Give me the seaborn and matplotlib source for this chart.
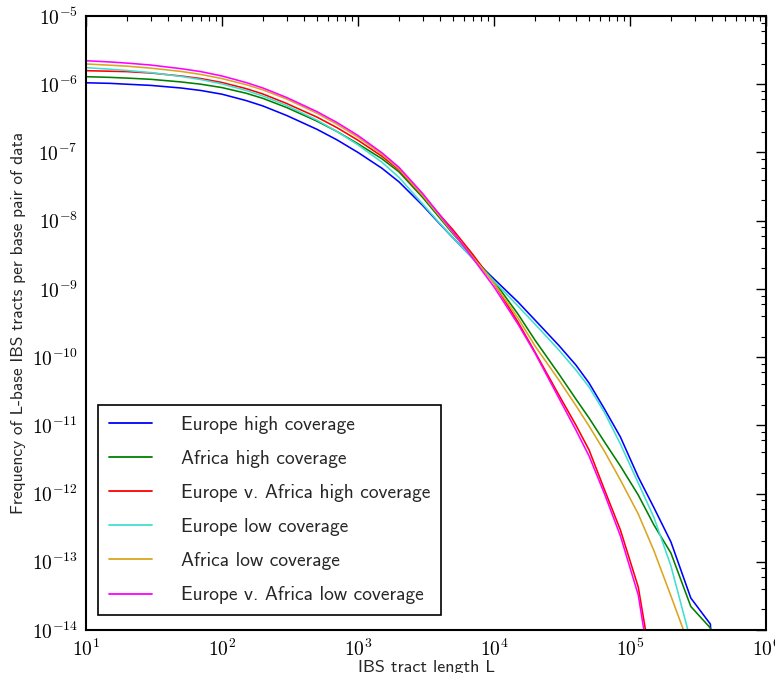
import numpy as np
import pandas as pd
import matplotlib
matplotlib.use("Agg")
import matplotlib.pyplot as plt
from matplotlib.ticker import LogLocator, FuncFormatter, NullFormatter
import seaborn as sns

# IBS tract length bins (bp)
tract_length = [10, 15, 20, 30, 50, 70, 100, 150, 200, 300, 500, 700, 1000, 1500,
                2000, 3000, 4000, 5000, 7000, 10000,
                15000, 20000, 30000, 40000, 50000, 65000, 85000, 115000, 150000,
                200000, 280000, 390000, 420000]

# Frequency of L-base IBS tracts per base pair, one list per comparison
europe_high = [1.05e-6, 1.03e-6, 1.00e-6, 9.61e-7, 8.80e-7, 8.09e-7, 7.14e-7, 5.77e-7,
               4.80e-7, 3.47e-7, 2.18e-7, 1.53e-7, 1.00e-7, 5.86e-8, 3.71e-8, 1.66e-8,
               8.94e-9, 5.59e-9, 2.79e-9, 1.40e-9,
               6.43e-10, 3.50e-10, 1.48e-10, 7.66e-11, 4.17e-11, 1.73e-11, 6.75e-12,
               1.75e-12, 6.20e-13, 1.95e-13, 2.94e-14, 1.22e-14, 1.0e-15]
africa_high = [1.29e-6, 1.26e-6, 1.23e-6, 1.18e-6, 1.08e-6, 1.00e-6, 8.92e-7, 7.39e-7,
               6.20e-7, 4.54e-7, 2.87e-7, 2.03e-7, 1.34e-7, 8.07e-8, 5.20e-8, 2.17e-8,
               1.09e-8, 6.40e-9, 3.02e-9, 1.30e-9,
               4.28e-10, 1.78e-10, 5.65e-11, 2.43e-11, 1.28e-11, 5.69e-12, 2.53e-12,
               9.52e-13, 3.46e-13, 1.34e-13, 2.21e-14, 1.07e-14, 9.4e-16]
eu_af_high = [1.58e-6, 1.55e-6, 1.53e-6, 1.46e-6, 1.32e-6, 1.21e-6, 1.06e-6, 8.63e-7,
              7.19e-7, 5.20e-7, 3.29e-7, 2.31e-7, 1.51e-7, 8.78e-8, 5.57e-8, 2.32e-8,
              1.21e-8, 7.32e-9, 3.18e-9, 1.21e-9,
              3.27e-10, 1.19e-10, 2.78e-11, 1.01e-11, 4.35e-12, 1.13e-12, 2.92e-13,
              4.26e-14, 1.85e-15, None, None, None, None]
europe_low = [1.75e-6, 1.66e-6, 1.59e-6, 1.48e-6, 1.30e-6, 1.17e-6, 1.01e-6, 8.12e-7,
              6.72e-7, 4.86e-7, 2.97e-7, 2.03e-7, 1.29e-7, 7.17e-8, 4.32e-8, 1.74e-8,
              9.09e-9, 5.59e-9, 2.79e-9, 1.30e-9,
              5.61e-10, 3.05e-10, 1.27e-10, 6.47e-11, 3.65e-11, 1.54e-11, 5.32e-12,
              1.43e-12, 4.45e-13, 8.67e-14, 6.89e-15, None, None]
africa_low = [1.98e-6, 1.90e-6, 1.84e-6, 1.72e-6, 1.54e-6, 1.39e-6, 1.21e-6, 9.87e-7,
              8.26e-7, 6.05e-7, 3.75e-7, 2.59e-7, 1.67e-7, 9.39e-8, 5.76e-8, 2.32e-8,
              1.15e-8, 6.62e-9, 2.92e-9, 1.21e-9,
              3.74e-10, 1.46e-10, 4.61e-11, 1.95e-11, 9.77e-12, 4.13e-12, 1.58e-12,
              5.02e-13, 1.45e-13, 3.15e-14, 5.09e-15, None, None]
eu_af_low = [2.21e-6, 2.12e-6, 2.04e-6, 1.91e-6, 1.69e-6, 1.53e-6, 1.32e-6, 1.06e-6,
             8.80e-7, 6.37e-7, 3.96e-7, 2.75e-7, 1.77e-7, 9.88e-8, 6.06e-8, 2.48e-8,
             1.21e-8, 6.84e-9, 2.79e-9, 1.07e-9,
             3.05e-10, 1.15e-10, 2.51e-11, 8.54e-12, 3.55e-12, 9.84e-13, 2.39e-13,
             3.26e-14, 1.20e-15, None, None, None, None]

series_labels = ["Europe high coverage", "Africa high coverage",
                 "Europe v. Africa high coverage", "Europe low coverage",
                 "Africa low coverage", "Europe v. Africa low coverage"]
series_values = [europe_high, africa_high, eu_af_high,
                 europe_low, africa_low, eu_af_low]
series_colors = ["#0000ff", "#008000", "#ff0000", "#40e0d0", "#daa520", "#ff00ff"]

rows = []
for label, values in zip(series_labels, series_values):
    for L, v in zip(tract_length, values):
        if v is not None:
            rows.append({"L": L, "freq": v, "series": label})
df = pd.DataFrame(rows)

sns.set_style("white")
plt.rcParams.update({
    "font.family": ["cmss10", "DejaVu Sans"],
    "mathtext.fontset": "cm",
    "axes.unicode_minus": False,
    "xtick.direction": "in",
    "ytick.direction": "in",
    "xtick.top": True,
    "ytick.right": True,
    "xtick.major.size": 7,
    "ytick.major.size": 7,
    "xtick.minor.size": 3.5,
    "ytick.minor.size": 3.5,
    "xtick.major.width": 1.0,
    "ytick.major.width": 1.0,
    "xtick.minor.width": 0.8,
    "ytick.minor.width": 0.8,
    "xtick.color": "black",
    "ytick.color": "black",
    "axes.edgecolor": "black",
    "axes.linewidth": 1.5,
})

fig = plt.figure(figsize=(7.75, 6.73), dpi=100)
ax = fig.add_axes([86 / 775, 1 - 630 / 673, 680 / 775, 614 / 673])
ax.set_xscale("log")
ax.set_yscale("log")

sns.lineplot(data=df, x="L", y="freq", hue="series", hue_order=series_labels,
             palette=series_colors, estimator=None, linewidth=1.15, ax=ax)

ax.set_xlim(1e1, 1e6)
ax.set_ylim(1e-14, 1e-5)

power_fmt = FuncFormatter(lambda v, pos: r"$10^{%d}$" % int(round(np.log10(v))))
ax.xaxis.set_major_locator(LogLocator(base=10, numticks=20))
ax.yaxis.set_major_locator(LogLocator(base=10, numticks=20))
ax.xaxis.set_major_formatter(power_fmt)
ax.yaxis.set_major_formatter(power_fmt)
ax.xaxis.set_minor_locator(LogLocator(base=10, subs=np.arange(2, 10), numticks=100))
ax.yaxis.set_minor_locator(LogLocator(base=10, subs=(2, 4, 6, 8), numticks=100))
ax.xaxis.set_minor_formatter(NullFormatter())
ax.yaxis.set_minor_formatter(NullFormatter())
ax.tick_params(axis="both", which="major", labelsize=14, pad=6)

ax.set_xlabel("IBS tract length L", fontsize=13, labelpad=0)
ax.set_ylabel("Frequency of L-base IBS tracts per base pair of data", fontsize=12.5)

handles, labels = ax.get_legend_handles_labels()
leg = ax.legend(handles, labels, loc="lower left",
                bbox_to_anchor=(12 / 680, 15 / 614), borderaxespad=0,
                fontsize=14, frameon=True, fancybox=False, framealpha=1,
                edgecolor="black", handlelength=2.25, handletextpad=1.45,
                labelspacing=0.83, borderpad=0.55)
leg.get_frame().set_linewidth(1.2)
for line in leg.get_lines():
    line.set_linewidth(1.3)

fig.savefig("out.png", dpi=100)
